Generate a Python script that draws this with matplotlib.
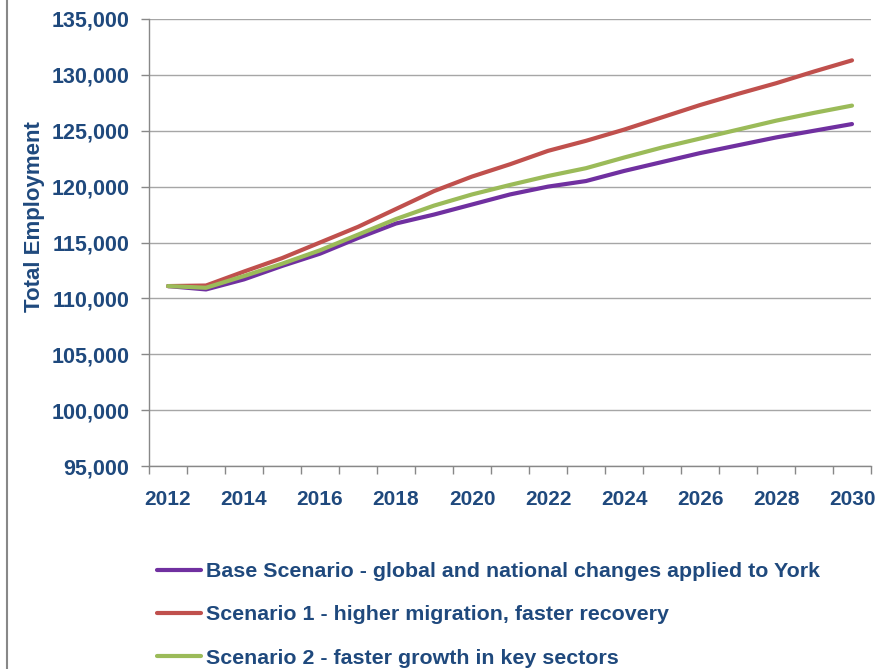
import numpy as np
import matplotlib
matplotlib.use("Agg")
import matplotlib.pyplot as plt
from matplotlib.lines import Line2D

# Data
years = list(range(2012, 2031))
base = [111100, 110800, 111700, 112900, 114000, 115400, 116700, 117500, 118400, 119300,
        120000, 120500, 121400, 122200, 123000, 123700, 124400, 125000, 125600]
scen1 = [111100, 111150, 112400, 113600, 115000, 116400, 118000, 119600, 120900, 122000,
         123200, 124100, 125100, 126200, 127300, 128300, 129250, 130300, 131300]
scen2 = [111100, 110950, 112000, 113100, 114300, 115700, 117100, 118300, 119300, 120150,
         120950, 121650, 122600, 123500, 124300, 125100, 125900, 126600, 127250]
labels = ["Base Scenario - global and national changes applied to York",
          "Scenario 1 - higher migration, faster recovery",
          "Scenario 2 - faster growth in key sectors"]
yticks = list(range(95000, 135001, 5000))

txt = "#1F497D"
plt.rcParams['font.family'] = ['Liberation Sans', 'DejaVu Sans']
plt.rcParams['font.weight'] = 'bold'

fig = plt.figure(figsize=(8.85, 6.69), dpi=100)
ax = fig.add_axes([149/885, 1 - 466/669, 722/885, 447/669])

x = np.arange(len(years))
l1, = ax.plot(x, base, color="#7030A0", lw=3, solid_capstyle="round", zorder=3)
l2, = ax.plot(x, scen1, color="#C0504D", lw=3, solid_capstyle="round", zorder=3)
l3, = ax.plot(x, scen2, color="#9BBB59", lw=3, solid_capstyle="round", zorder=4)

ax.set_xlim(-0.5, len(years) - 0.5)
ax.set_ylim(95000, 135000)
ax.set_yticks(yticks)
ax.set_yticklabels([f"{v:,}" for v in yticks], fontsize=15.5, color=txt, fontweight='bold')
ax.set_xticks(x[::2])
ax.set_xticklabels([str(y) for y in years[::2]], fontsize=15, color=txt, fontweight='bold')
ax.set_xticks(np.arange(-0.5, len(years)), minor=True)
ax.tick_params(axis='x', which='major', length=0, pad=17)
ax.tick_params(axis='x', which='minor', length=6, color="#888888", width=1)
ax.tick_params(axis='y', length=6, color="#888888", width=1, pad=8)

ax.set_ylabel("Total Employment", fontsize=16, color=txt, fontweight='bold')
ax.yaxis.set_label_coords((45 - 149) / 722, (466 - 217) / 447)

ax.grid(axis='y', color="#A6A6A6", lw=1)
ax.set_axisbelow(True)
for s in ['top', 'right']:
    ax.spines[s].set_visible(False)
for s in ['left', 'bottom']:
    ax.spines[s].set_color("#888888")
    ax.spines[s].set_linewidth(1)

leg = fig.legend([l1, l2, l3], labels, loc='upper left', bbox_to_anchor=(157/885, 1 - 562/669),
                 frameon=False, fontsize=15.4, handlelength=2.05, handletextpad=0.23,
                 labelspacing=1.14, borderpad=0, borderaxespad=0)
for t in leg.get_texts():
    t.set_color(txt)
    t.set_fontweight('bold')

# thin border line on the left edge of the picture
fig.add_artist(Line2D([7/885, 7/885], [0, 1], color="#888888", lw=1.5))

fig.savefig("out.png", dpi=100)
